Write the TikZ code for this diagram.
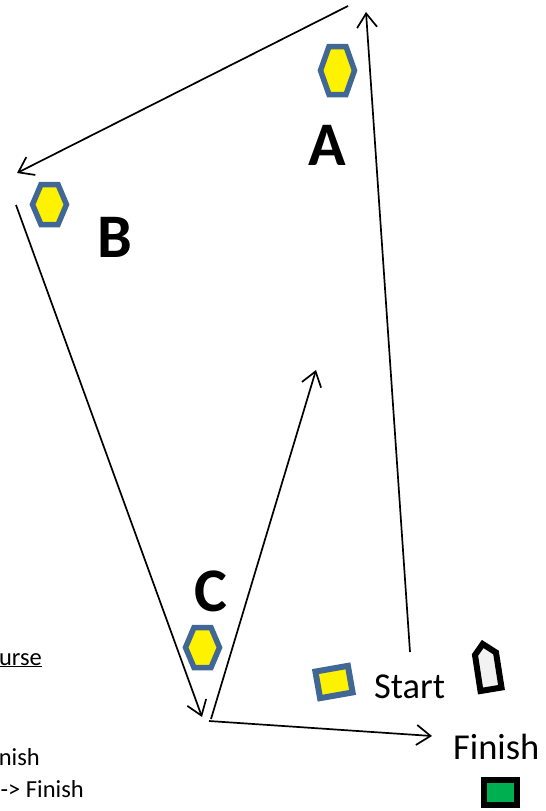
\documentclass[tikz,border=0pt]{standalone}
\usepackage{fontspec}
\setmainfont{Carlito}
\usetikzlibrary{arrows.meta}
\definecolor{markblue}{RGB}{65,103,150}
\definecolor{finishgreen}{RGB}{0,176,80}
\definecolor{boatgrey}{RGB}{242,242,242}
\begin{document}
\begin{tikzpicture}[x=1pt,y=-1pt,
	leg/.style={line width=1.7pt,-{Straight Barb[length=14pt,width=20pt,line width=1.7pt]}},
	hexline/.style={draw=markblue,fill=yellow,line width=5.5pt,line join=miter},
	hexmark/.pic={\draw[hexline] (-17,0) -- (-8.5,-#1) -- (8.5,-#1) -- (17,0) -- (8.5,#1) -- (-8.5,#1) -- cycle;},
	mark label/.style={font=\fontsize{62}{62}\selectfont\bfseries,anchor=base,inner sep=0pt},
	side label/.style={font=\fontsize{36.5}{40}\selectfont,anchor=base west,inner sep=0pt},
	key label/.style={font=\fontsize{24.5}{28}\selectfont,anchor=base east,inner sep=0pt}]
\useasboundingbox (0,0) rectangle (546,811);

\coordinate (startline) at (410,652);
\coordinate (topright) at (366,12);
\coordinate (topleft) at (348,6);
\coordinate (leftupper) at (17,173);
\coordinate (leftlower) at (16,205);
\coordinate (bottomC) at (202,717);
\coordinate (reachfrom) at (211,719);
\coordinate (reachto) at (316,370);
\coordinate (finishfrom) at (209,721);
\coordinate (finishto) at (432,736);

\draw[leg] (startline) -- (topright);
\draw[leg] (topleft) -- (leftupper);
\draw[leg] (leftlower) -- (bottomC);
\draw[leg] (reachfrom) -- (reachto);
\draw[leg] (finishfrom) -- (finishto);

\pic at (337.5,70.5) {hexmark=24};
\pic at (49.5,204.5) {hexmark=20};
\pic at (202.5,647.5) {hexmark=20};

\node[mark label] (labelA) at (327.5,165) {A};
\node[mark label] (labelB) at (115,257) {B};
\node[mark label] (labelC) at (210.5,611) {C};

\node[draw=markblue,fill=yellow,line width=6pt,minimum width=33pt,minimum height=27pt,rotate=10] (startmark) at (334,682) {};
\node[side label] (startlabel) at (374,698) {Start};
\node[side label] (finishlabel) at (453,759) {Finish};

\draw[black,fill=boatgrey,line width=6pt] (482.7,644) -- (496,652.5) -- (501.5,687.5) -- (480.5,691) -- (475,655) -- cycle;
\node[draw=black,fill=finishgreen,line width=6pt,minimum width=33pt,minimum height=25pt] (finishmark) at (500.5,792.5) {};

\node[key label] (keyA) at (42,665) {\underline{urse}};
\node[key label] (keyB) at (40,765) {nish};
\node[key label] (keyC) at (84,797) {-> Finish};
\end{tikzpicture}
\end{document}
